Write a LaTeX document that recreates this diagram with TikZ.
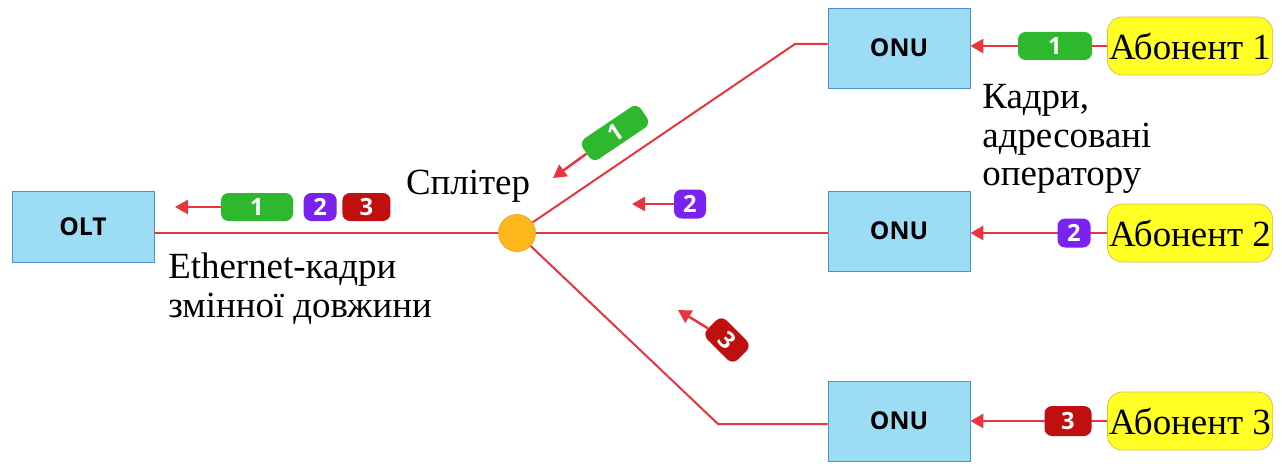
\documentclass[tikz,border=0pt]{standalone}
\usepackage{fontspec}
\setmainfont{Liberation Serif}
\newfontfamily\devfont{Open Sans}
\usetikzlibrary{positioning,arrows.meta}
\definecolor{devfill}{HTML}{9DDCF5}
\definecolor{devedge}{HTML}{4F8FCB}
\definecolor{fibre}{HTML}{E8353F}
\definecolor{abfill}{HTML}{FFFF26}
\definecolor{abedge}{HTML}{E5B84A}
\definecolor{splfill}{HTML}{FFB81C}
\definecolor{spledge}{HTML}{F0A020}
\definecolor{pgreen}{HTML}{2EB82E}
\definecolor{ppurple}{HTML}{7A22F0}
\definecolor{pred}{HTML}{C00F0F}

\begin{document}
\begin{tikzpicture}[x=0.2mm, y=-0.2mm,
  dev/.style={draw=devedge, fill=devfill, minimum width=28.4mm, minimum height=16mm, font=\devfont\bfseries\fontsize{14}{16}\selectfont},
  ab/.style={draw=abedge, fill=abfill, rounded corners=3mm, minimum width=33mm, minimum height=11.6mm, inner sep=1pt, font=\fontsize{21}{24}\selectfont},
  pkt/.style={rounded corners=1.5mm, text=white, inner sep=0pt, minimum height=5.6mm, font=\devfont\bfseries\fontsize{13.5}{15}\selectfont},
  lbl/.style={font=\fontsize{21}{22}\selectfont, align=left, inner sep=0pt},
  fib/.style={fibre, line width=0.4mm},
  arr/.style={-{Triangle[length=2.6mm, width=2.8mm]}, fibre, line width=0.5mm}]
  \useasboundingbox (0,0) rectangle (1282,464);

  % OLT, splitter and the three ONUs
  \node[dev, minimum height=14.2mm] (olt) at (83,227) {OLT};
  \node[circle, draw=spledge, fill=splfill, minimum size=7.4mm, inner sep=0pt] (spl) at (517,233) {};
  \node[dev] (onu1) at (899,48) {ONU};
  \node[dev] (onu2) at (899,231) {ONU};
  \node[dev] (onu3) at (899,421) {ONU};

  % subscribers
  \node[ab] (ab1) at (1190,46) {Абонент 1};
  \node[ab] (ab2) at (1190,233) {Абонент 2};
  \node[ab] (ab3) at (1190,421) {Абонент 3};

  % fibre tree
  \coordinate (k1) at (795,44);
  \coordinate (k3) at (718,424);
  \draw[fib] (olt.east |- spl) -- (spl);
  \draw[fib] (spl) -- (spl -| onu2.west);
  \draw[fib] (spl) -- (k1) -- (k1 -| onu1.west);
  \draw[fib] (spl) -- (k3) -- (k3 -| onu3.west);

  % upstream from subscribers to ONUs
  \draw[arr] (ab1.west) -- (ab1.west -| onu1.east);
  \draw[arr] (ab2.west) -- (ab2.west -| onu2.east);
  \draw[arr] (ab3.west) -- (ab3.west -| onu3.east);
  \node[pkt, fill=pgreen, minimum width=14.8mm] (g3) at (1055,46) {1};
  \node[pkt, fill=ppurple, minimum width=6.6mm, minimum height=5.8mm] (v3) at (1074,233) {2};
  \node[pkt, fill=pred, minimum width=9.4mm, minimum height=6mm] (r3) at (1068,421) {3};

  % frames on the branches
  \node[pkt, fill=pgreen, minimum width=14mm, minimum height=5mm, rotate=34] (g1) at (615,133) {1};
  \coordinate (t1) at (553,178);
  \draw[arr] (g1) -- (t1);
  \node[pkt, fill=ppurple, minimum width=6.4mm, minimum height=5.8mm] (v1) at (690,204) {2};
  \coordinate (t2) at (632,204);
  \draw[arr] (v1) -- (t2);
  \node[pkt, fill=pred, minimum width=8.6mm, minimum height=5.4mm, rotate=-45] (r1) at (727,340) {3};
  \coordinate (t3) at (678,310);
  \draw[arr] (r1) -- (t3);

  % merged stream towards the OLT
  \node[pkt, fill=pgreen, minimum width=14.4mm] (g0) at (257,207) {1};
  \node[pkt, fill=ppurple, minimum width=6.6mm, right=2mm of g0] (v0) {2};
  \node[pkt, fill=pred, minimum width=9.6mm, right=1mm of v0] (r0) {3};
  \coordinate (t0) at (175,207);
  \draw[arr] (g0) -- (t0);

  % captions
  \node[lbl] (spltxt) at (468,186) {Сплітер};
  \node[lbl, anchor=north west] (ethtxt) at (168,253) {Ethernet-кадри\\змінної довжини};
  \node[lbl, anchor=north west] (adrtxt) at (982,84) {Кадри,\\адресовані\\оператору};
\end{tikzpicture}
\end{document}
